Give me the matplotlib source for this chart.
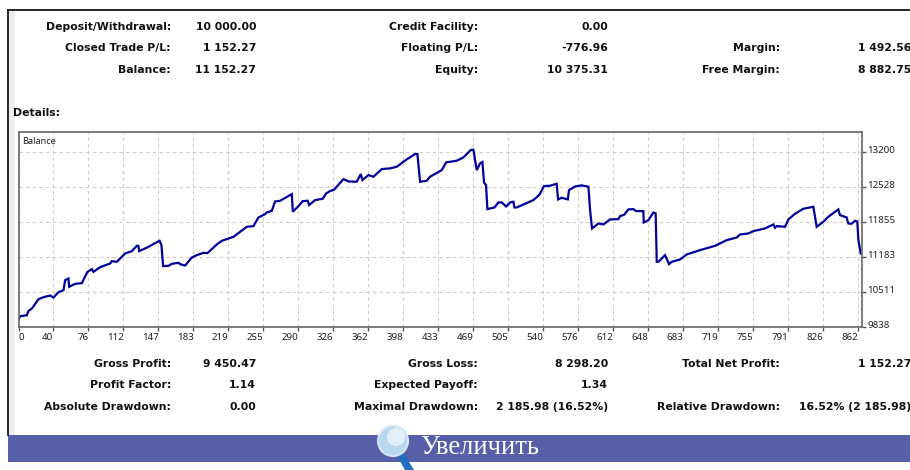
import matplotlib
matplotlib.use('Agg')
import matplotlib.pyplot as plt
from matplotlib.patches import Circle, Rectangle, Polygon
from matplotlib.transforms import ScaledTranslation

plt.rcParams['font.family'] = ['Noto Sans', 'DejaVu Sans']

# balance curve
trades = [4.3, 6, 12.8, 14.5, 17.9, 24.7, 29.8, 36.6, 40, 45.1, 50.2, 51.9, 55.3, 56, 62.1, 68.9, 74.7, 79.2, 80.9,
          87.7, 97.9, 99.6, 104.7, 113.2, 120, 125.1, 126.8, 127.5, 137, 148.3, 150.3, 152, 157.5, 160.9, 167.7,
          169.4, 172.8, 174.5, 181.3, 186.4, 193.2, 197.3, 206.8, 212, 223.9, 237.5, 244.3, 249.4, 256.2, 257.9,
          263, 266.4, 271.5, 283.5, 284.5, 290.3, 294.7, 299.8, 301.1, 307.3, 315.1, 318.5, 322.6, 327, 336.2,
          341.3, 349.8, 353.9, 355.6, 361.8, 366.9, 375.4, 383.9, 390.7, 400.9, 409.4, 411.8, 414.5, 421.3, 424.7,
          436.7, 441.1, 452, 458.8, 466.3, 469, 472.4, 475.8, 478.2, 479.9, 481.9, 483.3, 490.5, 494.5, 498, 502.4,
          506.5, 509.9, 510.9, 513.3, 530.3, 536.4, 541.2, 547.3, 554.1, 555.5, 559.2, 565.4, 566.7, 572.9, 579.7,
          586.5, 588.2, 590.2, 596.7, 601.8, 608.6, 617.1, 618.8, 622.9, 627.3, 632.4, 635.2, 642.6, 643, 647.8,
          652.9, 655.2, 656.3, 658, 664.8, 668.9, 671.6, 680.1, 686.9, 700.5, 715.9, 727.8, 738, 741.4, 749.9, 755,
          766.9, 775.4, 777.1, 778.8, 787.4, 790.8, 797.6, 806.1, 816.3, 819.7, 826.5, 831.6, 841.8, 843.5, 850.3,
          852, 855.4, 858.9, 861.2, 862.3, 864.7]
balance = [9987, 10045, 10064, 10147, 10192, 10371, 10410, 10442, 10403, 10506, 10544, 10736, 10768, 10608, 10666,
           10678, 10896, 10947, 10896, 10986, 11056, 11101, 11088, 11248, 11293, 11395, 11395, 11293, 11376, 11491,
           11408, 11005, 11011, 11050, 11069, 11043, 11024, 11018, 11171, 11216, 11261, 11254, 11421, 11491, 11568,
           11760, 11773, 11939, 12003, 12035, 12067, 12246, 12259, 12387, 12048, 12157, 12253, 12259, 12176, 12272,
           12298, 12400, 12445, 12477, 12675, 12630, 12624, 12771, 12656, 12752, 12720, 12867, 12880, 12912, 13053,
           13155, 13155, 12624, 12643, 12720, 12848, 12995, 13027, 13091, 13232, 13238, 12848, 12976, 13002, 12605,
           12560, 12099, 12131, 12227, 12227, 12150, 12227, 12240, 12131, 12131, 12272, 12374, 12541, 12547, 12586,
           12285, 12317, 12285, 12464, 12534, 12554, 12528, 12080, 11728, 11824, 11805, 11901, 11907, 11965, 11990,
           12093, 12099, 12061, 12061, 11843, 11888, 12035, 12016, 11088, 11088, 11216, 11043, 11088, 11133, 11229,
           11312, 11395, 11504, 11555, 11613, 11632, 11677, 11728, 11805, 11741, 11773, 11760, 11901, 12010, 12106,
           12144, 11760, 11856, 11952, 12093, 11984, 11939, 11824, 11818, 11875, 11862, 11504, 11248]

x_labels = ['0', '40', '76', '112', '147', '183', '219', '255', '290', '326', '362', '398', '433', '469', '505',
            '540', '576', '612', '648', '683', '719', '755', '791', '826', '862']
y_ticks = [9838, 10511, 11183, 11855, 12528, 13200]

top_rows = [['Deposit/Withdrawal:', '10 000.00', 'Credit Facility:', '0.00', '', ''],
            ['Closed Trade P/L:', '1 152.27', 'Floating P/L:', '-776.96', 'Margin:', '1 492.56'],
            ['Balance:', '11 152.27', 'Equity:', '10 375.31', 'Free Margin:', '8 882.75']]
bottom_rows = [['Gross Profit:', '9 450.47', 'Gross Loss:', '8 298.20', 'Total Net Profit:', '1 152.27'],
               ['Profit Factor:', '1.14', 'Expected Payoff:', '1.34', '', ''],
               ['Absolute Drawdown:', '0.00', 'Maximal Drawdown:', '2 185.98 (16.52%)', 'Relative Drawdown:',
                '16.52% (2 185.98)']]

W, H = 910, 470
fig = plt.figure(figsize=(W / 100, H / 100), dpi=100, facecolor='white')

# page in pixel coordinates
page = fig.add_axes([0, 0, 1, 1])
page.set_xlim(0, W)
page.set_ylim(H, 0)
page.axis('off')

page.plot([8, W], [10, 10], color='black', lw=1.2)
page.plot([8, 8], [10, 435], color='black', lw=1.2)
page.add_patch(Rectangle((9, 11), 6, 424, color='#ececec', lw=0))

bold = dict(fontsize=7.85, fontweight='bold', color='#111111', family='DejaVu Sans')
col_x = [171, 256, 478, 608, 780, 911]
def rows(data, ys):
    for row, y in zip(data, ys):
        for i, s in enumerate(row):
            page.text(col_x[i], y, s, ha='right', va='center', **bold)

rows(top_rows, [27, 48, 70])
rows(bottom_rows, [364, 385, 407])
page.text(13, 113, 'Details:', ha='left', va='center', **bold)

# band at the bottom
page.add_patch(Rectangle((8, 435), W - 8, 27, color='#565fa8', lw=0))
page.add_patch(Polygon([[395, 452], [401, 449], [414, 470], [405, 470]], color='#1f6fc0', lw=0, zorder=3))
page.add_patch(Circle((393, 441), 15, facecolor='#b9d7ef', edgecolor='#d5e6f5', lw=1.5, zorder=4))
page.add_patch(Circle((396, 437), 9, facecolor='#e2eff9', lw=0, zorder=5))
page.text(420, 447, 'Увеличить', ha='left', va='center', fontsize=19.2, color='white',
          family=['Liberation Serif', 'DejaVu Serif'])

# chart
ax = fig.add_axes([18.5 / W, (H - 327) / H, (862 - 18.5) / W, 195 / H])
ax.plot(trades, balance, color='#00009c', lw=1.6, solid_joinstyle='miter')
ax.set_xlim(4.3, 866)
ax.set_ylim(9838, 13578)
ax.set_xticks([4.25 + 35.75 * i for i in range(len(x_labels))])
ax.set_xticklabels(x_labels)
ax.set_yticks(y_ticks)
ax.yaxis.tick_right()
ax.grid(True, color='#cccccc', linestyle=(0, (3, 3)), lw=0.8)
ax.set_axisbelow(True)
ax.tick_params(axis='x', length=3, width=1, color='#555555', labelsize=7, labelcolor='#222222', pad=1.5)
ax.tick_params(axis='y', length=3, width=1, color='#555555', labelsize=7, labelcolor='#222222', pad=1)
for s in ax.spines.values():
    s.set_color('#666666')
    s.set_linewidth(1.2)
for lab in ax.get_xticklabels():
    lab.set_ha('right')
ax.get_xticklabels()[0].set_ha('left')
up = ScaledTranslation(0, 2.5 / 100, fig.dpi_scale_trans)
for lab in ax.get_yticklabels():
    lab.set_transform(lab.get_transform() + up)
ax.text(0.004, 0.95, 'Balance', transform=ax.transAxes, ha='left', va='center', fontsize=6.6, color='#222222')

fig.savefig('out.png', dpi=100)
